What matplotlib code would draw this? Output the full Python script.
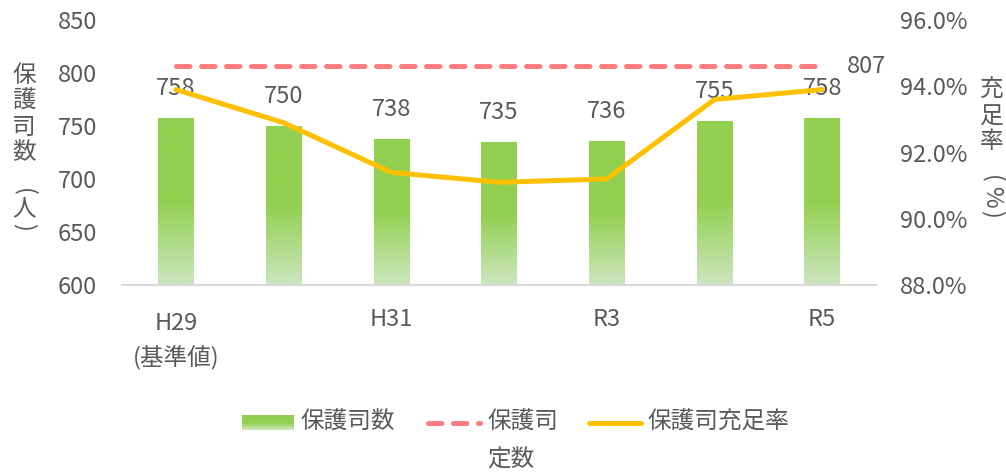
import matplotlib
matplotlib.use("Agg")
import matplotlib.pyplot as plt
import numpy as np
from matplotlib.colors import LinearSegmentedColormap
from matplotlib.lines import Line2D
from matplotlib.ticker import FuncFormatter, MultipleLocator
from matplotlib.transforms import ScaledTranslation

plt.rcParams['font.family'] = ['Noto Sans CJK JP', 'DejaVu Sans']

# ---- data ----
categories = ["H29", "H30", "H31", "R2", "R3", "R4", "R5"]
tick_labels = ["H29\n(基準値)", "", "H31", "", "R3", "", "R5"]
officers = [758, 750, 738, 735, 736, 755, 758]          # 保護司数
quota = [807, 807, 807, 807, 807, 807, 807]             # 保護司定数
fill_rate = [93.9, 92.9, 91.4, 91.1, 91.2, 93.6, 93.9]  # 保護司充足率 (%)

GRAY = '#595959'
GREEN = '#92D050'
PINK = '#FF7C80'
YELLOW = '#FFC000'
FS = 17

W, H = 1006, 475
fig = plt.figure(figsize=(W / 100, H / 100), dpi=100)


def fx(px):
    return px / W


def fy(py):
    return 1 - py / H


ax = fig.add_axes([fx(122), fy(285), fx(876) - fx(122), fy(20) - fy(285)])
ax2 = ax.twinx()

x = np.arange(len(categories))
cmap = LinearSegmentedColormap.from_list(
    'g', [(0, '#CDE6C0'), (0.5, GREEN), (1, GREEN)])
grad = np.linspace(0, 1, 256).reshape(-1, 1)

bars = ax.bar(x, officers, width=0.33, color='none', edgecolor='none', zorder=2)
for b in bars:
    x0, w, top = b.get_x(), b.get_width(), b.get_y() + b.get_height()
    im = ax.imshow(grad, extent=[x0, x0 + w, 600, top], origin='lower',
                   aspect='auto', cmap=cmap, zorder=2, interpolation='bilinear')
    im.set_clip_path(b)

ax.plot(x, quota, color=PINK, lw=3.6, dashes=(2.7, 2.3),
        dash_capstyle='round', zorder=3)

for xi, v in zip(x, officers):
    ax.annotate(str(v), (xi, v), xytext=(0, 21), textcoords='offset points',
                ha='center', va='center', fontsize=FS, color=GRAY, zorder=5)
ax.annotate(str(quota[-1]), (x[-1], quota[-1]), xytext=(32, -1),
            textcoords='offset points', ha='center', va='center',
            fontsize=FS, color=GRAY)

ax2.plot(x, np.array(fill_rate) / 100, color=YELLOW, lw=3.6,
         solid_capstyle='round', solid_joinstyle='round', zorder=4)

ax.set_xlim(-0.5, 6.5)
ax.set_ylim(600, 850)
ax.yaxis.set_major_locator(MultipleLocator(50))
ax2.set_ylim(0.88, 0.96)
ax2.yaxis.set_major_locator(MultipleLocator(0.02))
ax2.yaxis.set_major_formatter(FuncFormatter(lambda v, p: f"{v * 100:.1f}%"))

ax.set_xticks(x)
ax.set_xticklabels(tick_labels, linespacing=1.55)

for s in ['top', 'left', 'right']:
    ax.spines[s].set_visible(False)
ax.spines['bottom'].set_color('#D9D9D9')
ax.spines['bottom'].set_linewidth(1.5)
for s in ax2.spines.values():
    s.set_visible(False)

ax.tick_params(axis='x', length=0, labelsize=FS, labelcolor=GRAY, pad=16.3)
ax.tick_params(axis='y', length=0, labelsize=FS, labelcolor=GRAY, pad=18)
ax2.tick_params(axis='y', length=0, labelsize=FS, labelcolor=GRAY, pad=17)

# first (two-line) label sits slightly lower
first = ax.get_xticklabels()[0]
first.set_transform(first.get_transform() +
                    ScaledTranslation(0, -4 / 100, fig.dpi_scale_trans))

# ---- vertical axis titles ----
left_chars = [("保", 76, 0), ("護", 101, 0), ("司", 127, 0), ("数", 153, 0),
              ("(", 192, -90), ("人", 209, 0), (")", 227, -90)]
for ch, py, rot in left_chars:
    fig.text(fx(24), fy(py), ch, ha='center', va='center', rotation=rot,
             fontsize=FS, color=GRAY)
right_chars = [("充", 90, 0), ("足", 117, 0), ("率", 142, 0),
               ("(", 179, -90), ("%", 197, -90), (")", 214, -90)]
for ch, py, rot in right_chars:
    fig.text(fx(992), fy(py), ch, ha='center', va='center', rotation=rot,
             fontsize=FS, color=GRAY)

# ---- legend (manual) ----
lax = fig.add_axes([fx(242), fy(430), fx(294) - fx(242), fy(415) - fy(430)])
lax.imshow(grad, origin='lower', aspect='auto', cmap=cmap,
           extent=[0, 1, 0, 1], interpolation='bilinear')
lax.axis('off')
fig.text(fx(300), fy(422), "保護司数", ha='left', va='center',
         fontsize=FS, color=GRAY)

fig.add_artist(Line2D([fx(428), fx(480)], [fy(422.5), fy(422.5)],
                      transform=fig.transFigure, color=PINK, lw=3.6,
                      dashes=(2.7, 2.3), dash_capstyle='round'))
fig.text(fx(487), fy(422), "保護司", ha='left', va='center',
         fontsize=FS, color=GRAY)
fig.text(fx(487), fy(460), "定数", ha='left', va='center',
         fontsize=FS, color=GRAY)

fig.add_artist(Line2D([fx(589), fx(641)], [fy(422.5), fy(422.5)],
                      transform=fig.transFigure, color=YELLOW, lw=3.6,
                      solid_capstyle='round'))
fig.text(fx(647), fy(422), "保護司充足率", ha='left', va='center',
         fontsize=FS, color=GRAY)

fig.savefig("out.png", dpi=100, facecolor='white')
